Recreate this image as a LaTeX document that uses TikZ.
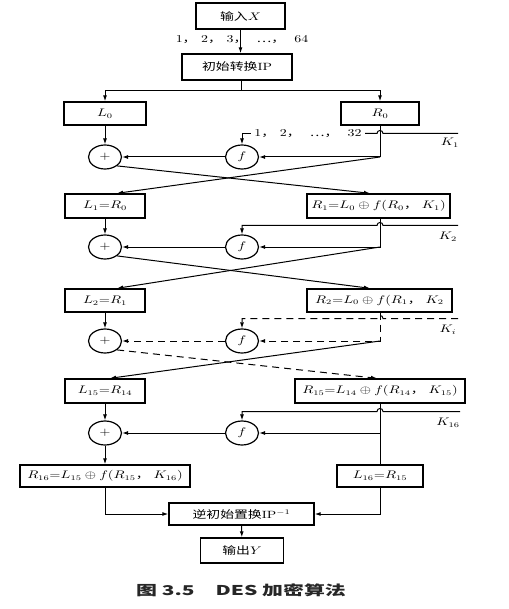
\documentclass[tikz,border=0pt]{standalone}
\usepackage{fontspec}
\usepackage{graphicx}
\newfontfamily\cjk{Noto Sans CJK SC}
\usetikzlibrary{shapes.geometric,arrows.meta}
\newcommand\zc{{\cjk ，}}
\newcommand\sx[1]{\scalebox{1.32}[1]{#1}}
\begin{document}
\begin{tikzpicture}[x=1pt,y=-1pt,
  font=\fontsize{10.5}{12}\selectfont,
  b/.style={draw, line width=1.4pt, minimum height=23pt, inner sep=1pt},
  o/.style={ellipse, draw, line width=1.2pt, minimum width=33pt, minimum height=24pt, inner sep=0pt},
  e/.style={line width=1pt},
  a/.style={e, -{Latex[length=6pt,width=4pt]}},
  d/.style={dash pattern=on 7pt off 5pt}
]
\useasboundingbox (0,0) rectangle (508,609);

\node[b, minimum width=89pt, minimum height=26pt] (in) at (240.5,16) {\sx{{\cjk 输入}$X$}};
\node (seq) at (242,40) {\sx{1\zc\ 2\zc\ 3\zc\ \ {\cjk …}\zc\ \ 64}};
\node[b, minimum width=110pt, minimum height=26pt] (ip) at (237,67) {\sx{{\cjk 初始转换}IP}};
\coordinate (sp) at (241,91);

\node[b, minimum width=82pt] (L0) at (105,113.5) {\sx{$L_0$}};
\node[b, minimum width=78pt] (R0) at (380,113.5) {\sx{$R_0$}};
\node[o] (p0) at (105,157) {\sx{$+$}};
\node[o] (f0) at (242,157) {\sx{$f$}};
\coordinate (c0) at (380,157);
\coordinate (k1) at (458,133.5);
\node (s1) at (308,133.5) {\sx{1\zc\ 2\zc\ \ {\cjk …}\zc\ \ 32}};
\node at (450,143) {\sx{$K_1$}};

\node[b, minimum width=80pt, minimum height=24pt] (L1) at (105,206) {\sx{$L_1{=}R_0$}};
\node[b, minimum width=143pt, minimum height=24pt] (R1) at (378.5,206) {\sx{$R_1{=}L_0\oplus f(R_0$\zc$\;K_1)$}};
\node[o] (p1) at (105,247) {\sx{$+$}};
\node[o] (f1) at (242,247) {\sx{$f$}};
\coordinate (c1) at (380,247);
\coordinate (k2) at (458,225.5);
\node at (448,237) {\sx{$K_2$}};

\node[b, minimum width=80pt] (L2) at (105,300.5) {\sx{$L_2{=}R_1$}};
\node[b, minimum width=145pt] (R2) at (379.5,300.5) {\sx{$R_2{=}L_0\oplus f(R_1$\zc$\;K_2$}};
\node[o] (p2) at (105,341) {\sx{$+$}};
\node[o] (f2) at (242,341) {\sx{$f$}};
\coordinate (c2) at (380,341);
\coordinate (k3) at (458,318.5);
\node at (448,330) {\sx{$K_i$}};

\node[b, minimum width=80pt, minimum height=24pt] (L15) at (105,391) {\sx{$L_{15}{=}R_{14}$}};
\node[b, minimum width=170pt, minimum height=24pt] (R15) at (380,391) {\sx{$R_{15}{=}L_{14}\oplus f(R_{14}$\zc$\;K_{15})$}};
\node[o] (p15) at (105,433) {\sx{$+$}};
\node[o] (f15) at (242,433) {\sx{$f$}};
\coordinate (c15) at (380,433);
\coordinate (k16) at (460,411.5);
\node at (448,423) {\sx{$K_{16}$}};

\node[b, minimum width=170pt, minimum height=22pt] (R16) at (105,476) {\sx{$R_{16}{=}L_{15}\oplus f(R_{15}$\zc$\;K_{16})$}};
\node[b, minimum width=86pt, minimum height=22pt] (L16) at (380,476) {\sx{$L_{16}{=}R_{15}$}};
\node[b, minimum width=145pt, minimum height=22pt] (inv) at (241.5,514) {\sx{{\cjk 逆初始置换}IP$^{-1}$}};
\node[b, minimum width=83pt, minimum height=25pt] (out) at (242,550.5) {\sx{{\cjk 输出}$Y$}};
\node[text=black!85] (cap) at (241,590) {\scalebox{1.55}[1]{\cjk\bfseries\fontsize{13.5}{15}\selectfont 图 3.5\quad DES 加密算法}};

% input and initial permutation
\draw[a] (in) -- (in |- ip.north);
\draw[e] (ip.south -| sp) -- (sp);
\draw[a] (sp) -| (L0);
\draw[a] (sp) -| (R0);

% round 1
\draw[a] (L0) -- (p0);
\draw[a] (R0) -- (c0) -- (f0);
\draw[a] (f0) -- (p0);
\draw[e] (k1) -- ([xshift=3pt]c0 |- k1) .. controls +(0,-4) and +(0,-4) .. ([xshift=-3pt]c0 |- k1) -- (s1);
\draw[a] (s1) -| (f0);
\draw[a] (c0) -- ([xshift=12pt]L1.north);
\draw[a] (p0.south east) -- ([xshift=-8.5pt]R1.north);

% round 2
\draw[a] (L1) -- (p1);
\draw[a] (R1.south -| c1) -- (c1) -- (f1);
\draw[a] (f1) -- (p1);
\draw[a] (k2) -- ([xshift=3pt]c1 |- k2) .. controls +(0,-4) and +(0,-4) .. ([xshift=-3pt]c1 |- k2) -| (f1);
\draw[a] (c1) -- ([xshift=12pt]L2.north);
\draw[a] (p1.south east) -- ([xshift=-9.5pt]R2.north);

% round i (dashed)
\draw[a] (L2) -- (p2);
\draw[a, d] (R2.south -| c2) -- (c2) -- (f2);
\draw[a, d] (f2) -- (p2);
\draw[a, d] (k3) -- ([xshift=3pt]c2 |- k3) .. controls +(0,-4) and +(0,-4) .. ([xshift=-3pt]c2 |- k3) -| (f2);
\draw[a] (c2) -- ([xshift=5pt]L15.north);
\draw[a, d] (p2.south east) -- ([xshift=-3pt]R15.north);

% round 16
\draw[a] (L15) -- (p15);
\draw[e] (R15) -- (L16);
\draw[a] (c15) -- (f15);
\draw[a] (f15) -- (p15);
\draw[a] (k16) -- ([xshift=3pt]c15 |- k16) .. controls +(0,-4) and +(0,-4) .. ([xshift=-3pt]c15 |- k16) -| (f15);
\draw[a] (p15) -- (R16);

% inverse permutation and output
\draw[a] (R16) |- (inv);
\draw[a] (L16) |- (inv);
\draw[a] (inv) -- (out);
\end{tikzpicture}
\end{document}
